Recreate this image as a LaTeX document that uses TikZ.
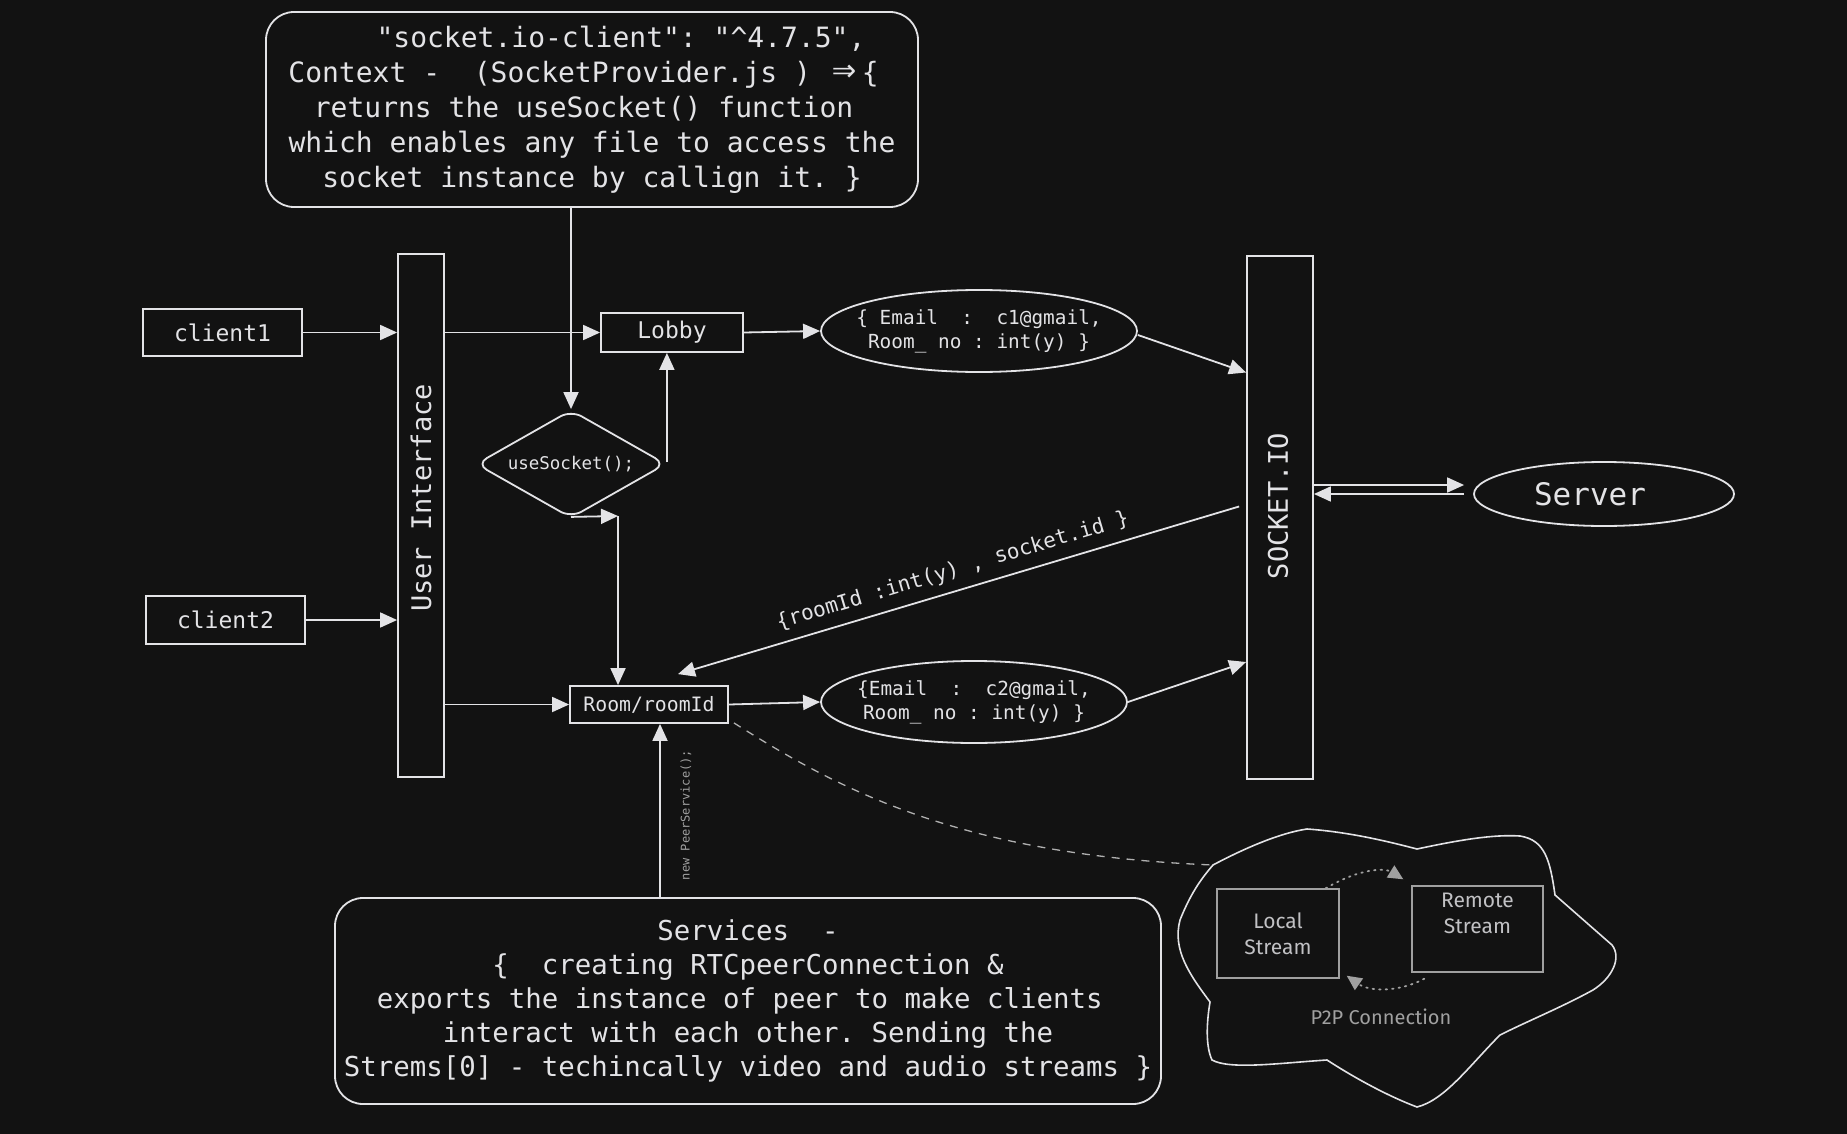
\documentclass[tikz,border=0pt]{standalone}
\usepackage{fontspec}
\setmonofont{DejaVu Sans Mono}
\newfontfamily\handfont{Fira Sans}
\usetikzlibrary{arrows.meta,shapes.geometric,calc}
\definecolor{bg}{HTML}{121212}
\definecolor{fg}{HTML}{E3E3E6}
\definecolor{dim}{HTML}{A0A0A0}
\definecolor{dashc}{HTML}{B0B0B0}
\newcommand{\fsz}[2]{\fontsize{#1}{#2}\selectfont}
\begin{document}
\begin{tikzpicture}[x=1pt,y=-1pt, font=\ttfamily,
  line/.style={draw=fg, line width=1.8pt},
  arr/.style={line, -{Triangle[length=17pt,width=15pt]}},
  box/.style={draw=fg, line width=1.8pt, text=fg, inner sep=0pt, rectangle},
  rbox/.style={box, rounded corners=28pt},
  ell/.style={box, ellipse, inner xsep=-30pt, inner ysep=0pt},
  lbl/.style={text=fg, inner sep=0pt},
  gbox/.style={draw=dim, line width=1.4pt, text=fg!85!black, inner sep=0pt, rectangle, align=center, font=\handfont\fsz{21}{26}},
  dotarr/.style={draw=dim, line width=1.8pt, dash pattern=on 1.5pt off 5pt, line cap=round, -{Triangle[length=15pt,width=14pt,fill=dim]}}
]
\useasboundingbox (0,0) rectangle (1847,1134);
\fill[bg] (0,0) rectangle (1847,1134);

% top box
\node[rbox, minimum width=652pt, minimum height=195pt, align=center, font=\ttfamily\fsz{28}{35}] (top) at (592,109.5)
 {\hspace*{58pt}"socket.io-client": "\^{}4.7.5",\\
  Context -\ \ (SocketProvider.js ) \makebox[34pt]{\fsz{40}{35}⇒}\{\hphantom{x}\\
  returns the useSocket() function\hphantom{x}\\
  which enables any file to access the\\
  socket instance by callign it. \}};

% clients
\node[box, minimum width=159pt, minimum height=47pt, font=\ttfamily\fsz{23}{28}] (client1) at (222.5,332.5) {client1};
\node[box, minimum width=159pt, minimum height=48pt, font=\ttfamily\fsz{23}{28}] (client2) at (225.5,620) {client2};

% user interface bar
\node[box, minimum width=46pt, minimum height=523pt] (ui) at (421,515.5) {};
\node[lbl, rotate=90, font=\ttfamily\fsz{27}{32}] (uitext) at (421,498) {User Interface};

% lobby
\node[box, minimum width=142pt, minimum height=39pt, font=\ttfamily\fsz{23}{28}] (lobby) at (672,332.5) {Lobby};

% diamond
\node[draw=fg, line width=1.8pt, shape=diamond, aspect=1.76, minimum width=190pt, minimum height=108pt, inner sep=0pt, rounded corners=12pt, text=fg, font=\ttfamily\fsz{17.5}{20}] (dia) at (571,464) {useSocket();};

% ellipses
\node[ell, minimum width=316pt, minimum height=82pt, align=center, font=\ttfamily\fsz{19.4}{24}] (ell1) at (979,331)
 {\{ Email\ \ :\ \ c1@gmail,\\ Room\_ no : int(y) \}};
\node[ell, minimum width=306pt, minimum height=82pt, align=center, font=\ttfamily\fsz{19.4}{24}] (ell2) at (974,702)
 {\{Email\ \ :\ \ c2@gmail,\\ Room\_ no : int(y) \}};

% socket.io bar
\node[box, minimum width=66pt, minimum height=523pt] (sock) at (1280,517.5) {};
\node[lbl, rotate=90, font=\ttfamily\fsz{27}{32}] (socktext) at (1278,506) {SOCKET.IO};

% server
\node[ell, minimum width=260pt, minimum height=64pt, font=\ttfamily\fsz{31}{36}] (server) at (1604,494) {Server\hspace*{28pt}};

% room
\node[box, minimum width=158pt, minimum height=37pt, font=\ttfamily\fsz{19.8}{24}] (room) at (649,704.5) {Room/roomId};

% services
\node[rbox, minimum width=826pt, minimum height=206pt, align=center, font=\ttfamily\fsz{27.4}{34}] (serv) at (748,1001)
 {Services\ \ -\\
  \{\ \ creating RTCpeerConnection \&\\
  exports the instance of peer to make clients\hphantom{x}\\
  interact with each other. Sending the\\
  Strems[0] - techincally video and audio streams \}};

% cloud
\coordinate (cl) at (1213,865);
\draw[fg, line width=1.6pt] (cl) .. controls (1245,848) and (1280,833) .. (1307,829)
  .. controls (1350,832) and (1390,842) .. (1417,849)
  .. controls (1450,842) and (1490,834) .. (1520,836)
  .. controls (1545,840) and (1550,860) .. (1555,895)
  -- (1612,945)
  .. controls (1622,958) and (1612,978) .. (1593,990)
  .. controls (1560,1008) and (1530,1020) .. (1500,1035)
  .. controls (1470,1065) and (1445,1100) .. (1417,1107)
  .. controls (1385,1095) and (1350,1075) .. (1327,1060)
  .. controls (1280,1063) and (1230,1070) .. (1212,1060)
  .. controls (1205,1045) and (1207,1020) .. (1210,1002)
  .. controls (1190,975) and (1172,950) .. (1180,920)
  .. controls (1190,895) and (1200,880) .. cycle;

\node[gbox, minimum width=122pt, minimum height=89pt] (local) at (1278,933.5) {Local\\Stream};
\node[gbox, minimum width=131pt, minimum height=86pt] (remote) at (1477.5,929) {Remote\\Stream\\[6pt]};
\node[text=dim, inner sep=0pt, font=\handfont\fsz{20}{24}] (p2p) at (1381,1017) {P2P Connection};

% connectors
\draw[arr] (dia.north |- top.south) -- (dia.north);
\draw[arr] (client1.east) -- (client1.east -| ui.west);
\draw[arr] (client2.east) -- (client2.east -| ui.west);
\draw[arr] (ui.east |- lobby.west) -- (lobby.west);
\draw[arr] ([yshift=2pt]dia.east) -- (dia.east |- lobby.south);
\coordinate (elb) at (618,516);
\draw[arr] ([yshift=2pt]dia.south) -- (elb);
\draw[arr] (elb) -- (elb |- room.north);
\draw[arr] (lobby.east) -- (ell1.west);
\draw[arr] ([yshift=-4pt]ell1.east) -- ([yshift=145pt]sock.west);
\draw[arr] ([shift={(-7pt,11pt)}]sock.west) -- ([shift={(29pt,11pt)}]room.north)
  node[midway, sloped, above=9pt, text=fg, inner sep=0pt, font=\ttfamily\fsz{21}{24}] (rlabel) {\{roomId :int(y) , socket.id \}};
\draw[arr] (ui.east |- room.west) -- (room.west);
\draw[arr] (room.east) -- (ell2.west);
\draw[arr] (ell2.east) -- ([yshift=-144.5pt]sock.west);
\draw[arr] ($(sock.east |- server.west)+(0,-9)$) -- ($(server.west)+(-9,-9)$);
\draw[arr] ($(server.west)+(-9,0)$) -- (sock.east |- server.west);
\draw[arr] ([xshift=11pt]room.south |- serv.north) -- ([xshift=11pt]room.south);
\node[text=dim, rotate=90, inner sep=0pt, font=\ttfamily\fsz{12}{14}] (peerlbl) at (686,815) {new PeerService();};
\draw[dashc, line width=1.3pt, dash pattern=on 8pt off 7pt] ([shift={(5pt,1pt)}]room.south east) .. controls (840,790) and (960,855) .. (cl);
\draw[dotarr] ([xshift=-14pt]local.north east) .. controls (1360,868) and (1385,868) .. ([shift={(-8pt,6pt)}]remote.north west);
\draw[dotarr] ([shift={(13pt,-6pt)}]remote.south west) .. controls (1400,992) and (1370,992) .. ([shift={(7pt,3pt)}]local.south east);
\end{tikzpicture}
\end{document}
